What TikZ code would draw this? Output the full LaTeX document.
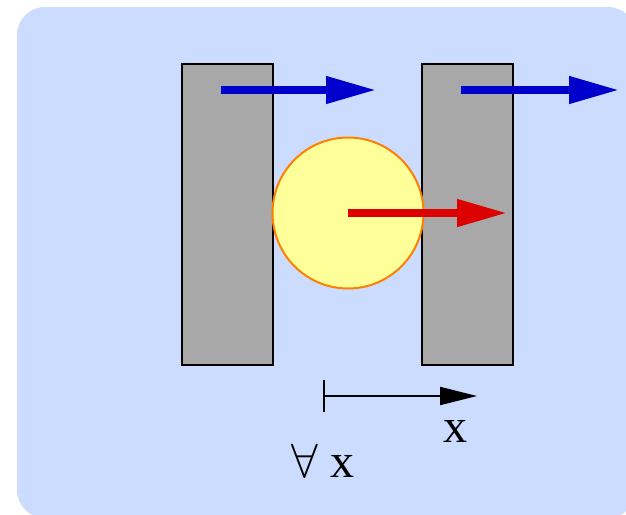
\RequirePackage{fix-cm}
\documentclass[tikz,border=0pt]{standalone}
\usepackage{fontspec}
\setmainfont{Liberation Serif}
\usepackage{tikz}
\usetikzlibrary{positioning,calc,arrows.meta}
\definecolor{panelbg}{HTML}{CCDCFF}
\definecolor{plategray}{HTML}{A8A8A8}
\definecolor{ballfill}{HTML}{FFFF99}
\definecolor{ballline}{HTML}{FF8000}
\definecolor{pushblue}{HTML}{0000CC}
\definecolor{pushred}{HTML}{DD0000}

\begin{document}
\begin{tikzpicture}[x=1pt, y=-1pt,
  plate/.style={draw=black, line width=2pt, fill=plategray, inner sep=0pt,
    minimum width=91pt, minimum height=301pt, anchor=north west},
  push/.style={line width=7.5pt, -{Triangle[length=50pt, width=26pt]}},
  lbl/.style={anchor=base, inner sep=0pt, font=\fontsize{48}{56}\selectfont}]
  \clip (0,0) rectangle (626,514);
  \fill[panelbg, rounded corners=28pt] (17,7) rectangle (636,518);

  % plates and ball
  \node[plate] (plateL) at (181,63) {};
  \node[plate] (plateR) at (421,63) {};
  \node[circle, draw=ballline, line width=2pt, fill=ballfill, inner sep=0pt,
    minimum size=151pt] (ball) at (348,213) {};

  % velocities
  \coordinate (vL) at (376,90);
  \coordinate (vR) at (619,90);
  \coordinate (vB) at (507,213);
  \draw[push, pushblue] (plateL.center |- vL) ++(-7,0) -- (vL);
  \draw[push, pushblue] (plateR.center |- vR) ++(-7,0) -- (vR);
  \draw[push, pushred] (ball.center) -- (vB);

  % displacement
  \coordinate (xA) at (323,396);
  \coordinate (xB) at (477,396);
  \draw[line width=2pt, {Bar[width=32pt]}-{Triangle[length=37pt, width=18pt]}] (xA) -- (xB);
  \node[lbl] (xlbl) at (455,442) {x};
  \node[lbl] (alllbl) at (323,477) {$\forall$ x};
\end{tikzpicture}
\end{document}
